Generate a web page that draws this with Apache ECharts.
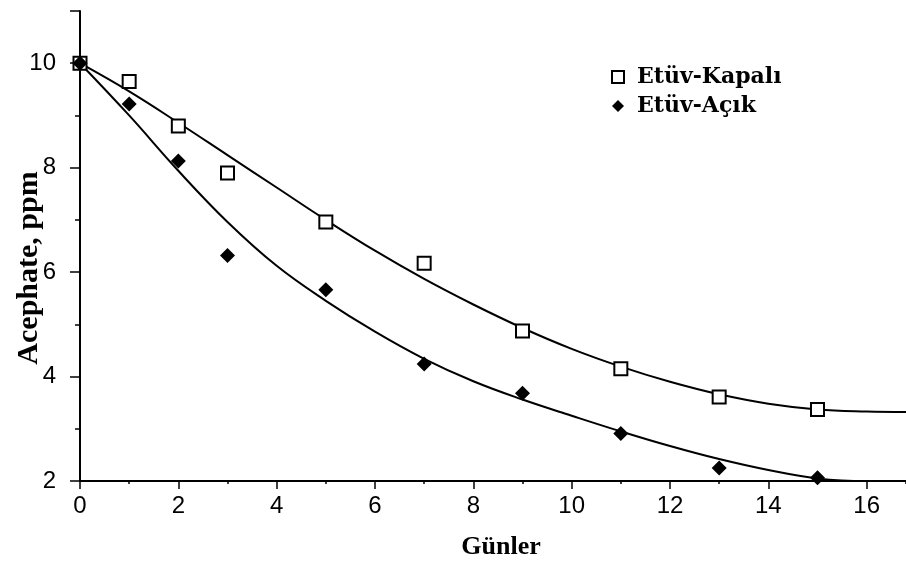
<!DOCTYPE html>
<html>
<head>
<meta charset="utf-8">
<script src="https://cdn.jsdelivr.net/npm/echarts@6/dist/echarts.min.js"></script>
<style>
  html, body { margin: 0; padding: 0; background: #ffffff; }
  #chart { width: 906px; height: 566px; }
</style>
</head>
<body>
<div id="chart"></div>
<script>
// Measured days and residues (ppm)
const days = [0, 1, 2, 3, 5, 7, 9, 11, 13, 15];
const kapali = [10, 9.65, 8.8, 7.9, 6.96, 6.17, 4.87, 4.15, 3.61, 3.37];
const acik = [10, 9.22, 8.13, 6.32, 5.66, 4.24, 3.68, 2.91, 2.25, 2.06];

// Fitted trend curves
const fitDays = [0, 1, 2, 3, 4, 5, 6, 7, 8, 9, 10, 11, 12, 13, 14, 15, 16, 16.8];
const kapaliFit = [10, 9.46, 8.86, 8.24, 7.62, 7.0, 6.41, 5.87, 5.38, 4.93, 4.53, 4.19, 3.9, 3.66, 3.48, 3.37, 3.33, 3.32];
const acikFit = [10, 9.0, 7.94, 6.96, 6.12, 5.45, 4.86, 4.34, 3.91, 3.56, 3.25, 2.95, 2.67, 2.42, 2.21, 2.05, 2.0, 2.0];

// Tick labels
const xTickLabels = [0, 2, 4, 6, 8, 10, 12, 14, 16];
const yTickLabels = [2, 4, 6, 8, 10];

const seriesNames = ['Etüv-Kapalı', 'Etüv-Açık'];

const pairs = (xs, ys) => xs.map((x, i) => [x, ys[i]]);
const black = '#000000';
const labelFont = { color: black, fontFamily: 'Liberation Sans', fontSize: 24 };

const chart = echarts.init(document.getElementById('chart'), null, { renderer: 'canvas' });

chart.setOption({
  animation: false,
  backgroundColor: '#ffffff',
  grid: { left: 80, top: 11, width: 826, height: 470 },
  legend: {
    data: seriesNames,
    orient: 'vertical',
    left: 606,
    top: 60,
    itemWidth: 12,
    itemHeight: 12,
    itemGap: 5,
    textStyle: {
      color: black,
      fontFamily: 'DejaVu Serif',
      fontWeight: 'bold',
      fontSize: 22,
      lineHeight: 24,
      padding: [0, 0, 0, 8]
    }
  },
  xAxis: [
    {
      type: 'value', min: 0, max: 16.8, interval: 1,
      position: 'bottom',
      axisLine: { show: true, lineStyle: { color: black, width: 2 } },
      axisTick: { show: true, length: 3, lineStyle: { color: black, width: 1.5 } },
      axisLabel: { show: false },
      splitLine: { show: false }
    },
    {
      type: 'value', min: 0, max: 16.8, interval: 2,
      position: 'bottom',
      axisLine: { show: false },
      axisTick: { show: true, length: 8, lineStyle: { color: black, width: 1.5 } },
      axisLabel: Object.assign({
        margin: 13,
        showMaxLabel: false,
        formatter: v => (xTickLabels.includes(v) ? String(v) : '')
      }, labelFont),
      splitLine: { show: false }
    }
  ],
  yAxis: [
    {
      type: 'value', min: 2, max: 11, interval: 1,
      position: 'left',
      axisLine: { show: true, lineStyle: { color: black, width: 2 } },
      axisTick: { show: true, length: 5, lineStyle: { color: black, width: 1.5 } },
      axisLabel: { show: false },
      splitLine: { show: false }
    },
    {
      type: 'value', min: 2, max: 11, interval: 2,
      position: 'left',
      axisLine: { show: false },
      axisTick: { show: true, length: 10, lineStyle: { color: black, width: 1.5 } },
      axisLabel: Object.assign({
        margin: 24,
        formatter: v => (yTickLabels.includes(v) ? String(v) : '')
      }, labelFont),
      splitLine: { show: false }
    }
  ],
  graphic: [
    {
      type: 'text', x: 29, y: 268, rotation: Math.PI / 2,
      style: {
        text: 'Acephate, ppm', fill: black,
        font: 'bold 30px "Liberation Serif"',
        textAlign: 'center', textVerticalAlign: 'middle'
      }
    },
    {
      type: 'text', x: 501, y: 547,
      style: {
        text: 'Günler', fill: black,
        font: 'bold 26px "Liberation Serif"',
        textAlign: 'center', textVerticalAlign: 'middle'
      }
    }
  ],
  series: [
    {
      name: 'Etüv-Kapalı eğri', type: 'line', xAxisIndex: 0, yAxisIndex: 0,
      data: pairs(fitDays, kapaliFit), smooth: 0.4, showSymbol: false,
      lineStyle: { color: black, width: 2 }, z: 2
    },
    {
      name: 'Etüv-Açık eğri', type: 'line', xAxisIndex: 0, yAxisIndex: 0,
      data: pairs(fitDays, acikFit), smooth: 0.4, showSymbol: false,
      lineStyle: { color: black, width: 2 }, z: 2
    },
    {
      name: seriesNames[0], type: 'scatter', xAxisIndex: 0, yAxisIndex: 0,
      data: pairs(days, kapali), symbol: 'rect', symbolSize: 13,
      itemStyle: { color: '#ffffff', borderColor: black, borderWidth: 2, opacity: 1 }, z: 4
    },
    {
      name: seriesNames[1], type: 'scatter', xAxisIndex: 0, yAxisIndex: 0,
      data: pairs(days, acik), symbol: 'diamond', symbolSize: 15,
      itemStyle: { color: black, opacity: 1 }, z: 5
    }
  ]
});
</script>
</body>
</html>
